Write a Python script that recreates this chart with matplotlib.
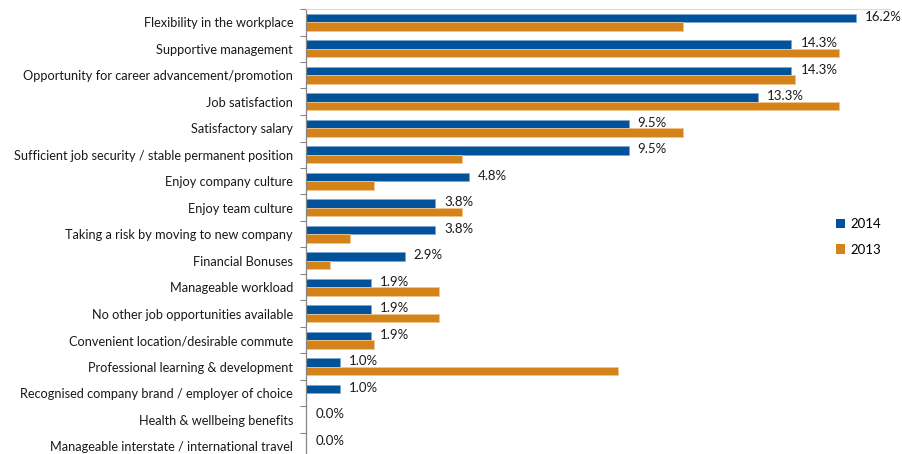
import matplotlib
matplotlib.use("Agg")
import matplotlib.pyplot as plt
from matplotlib.patches import Patch
from matplotlib.ticker import FixedLocator

plt.rcParams['font.family'] = ['Lato', 'DejaVu Sans']

categories = [
    "Flexibility in the workplace",
    "Supportive management",
    "Opportunity for career advancement/promotion",
    "Job satisfaction",
    "Satisfactory salary",
    "Sufficient job security / stable permanent position",
    "Enjoy company culture",
    "Enjoy team culture",
    "Taking a risk by moving to new company",
    "Financial Bonuses",
    "Manageable workload",
    "No other job opportunities available",
    "Convenient location/desirable commute",
    "Professional learning & development",
    "Recognised company brand / employer of choice",
    "Health & wellbeing benefits",
    "Manageable interstate / international travel",
]
values_2014 = [16.2, 14.3, 14.3, 13.3, 9.5, 9.5, 4.8, 3.8, 3.8, 2.9, 1.9, 1.9, 1.9, 1.0, 1.0, 0.0, 0.0]
values_2013 = [11.1, 15.7, 14.4, 15.7, 11.1, 4.6, 2.0, 4.6, 1.3, 0.7, 3.9, 3.9, 2.0, 9.2, 0.0, 0.0, 0.0]
series_names = ["2014", "2013"]

c2014 = "#00529B"
c2013 = "#D4821A"

W, H = 903, 454
fig = plt.figure(figsize=(W / 100, H / 100), dpi=100)
ax_left = 306.3 / W
ax_top = 1 - 9 / H
ax_bottom = 1 - 459.5 / H
ax_right_px = 890
ax = fig.add_axes([ax_left, ax_bottom, (ax_right_px - 306.3) / W, ax_top - ax_bottom])

n = len(categories)
pos = list(range(n))
bh = 0.32
ax.barh([p - bh / 2 for p in pos], values_2014, height=bh, color=c2014,
        edgecolor="#7FA6CF", linewidth=0.6)
ax.barh([p + bh / 2 for p in pos], values_2013, height=bh, color=c2013,
        edgecolor="#F2C58A", linewidth=0.6)

for p, v in zip(pos, values_2014):
    ax.annotate(f"{v:.1f}%", xy=(v, p - bh / 2), xytext=(6.5, 1), textcoords="offset points",
                ha="left", va="center", fontsize=9.5, color="#1a1a1a")

px_per_unit = 33.93
ax.set_xlim(0, (ax_right_px - 306.3) / px_per_unit)
ax.set_ylim(n - 0.5, -0.5)

ax.set_yticks(pos)
ax.set_yticklabels(categories, fontsize=9.2, color="#1a1a1a")
ax.yaxis.set_minor_locator(FixedLocator([p - 0.5 for p in range(n + 1)]))
ax.tick_params(axis="y", which="major", length=0, pad=9.5)
ax.tick_params(axis="y", which="minor", length=4, width=0.8, color="#868686")
ax.set_xticks([])

for s in ["right", "bottom"]:
    ax.spines[s].set_visible(False)
ax.spines["left"].set_color("#868686")
ax.spines["left"].set_linewidth(0.9)
ax.spines["top"].set_color("#D5DCE6")
ax.spines["top"].set_linewidth(0.8)

handles = [Patch(facecolor=c2014, edgecolor="none"), Patch(facecolor=c2013, edgecolor="none")]
ax.legend(handles, series_names, loc="center left", bbox_to_anchor=(836 / W, 1 - 237 / H),
          bbox_transform=fig.transFigure, frameon=False, fontsize=9.5,
          handlelength=0.7, handleheight=0.7, handletextpad=0.4, labelspacing=1.0,
          borderaxespad=0, borderpad=0)

fig.savefig("out.png", dpi=100)
